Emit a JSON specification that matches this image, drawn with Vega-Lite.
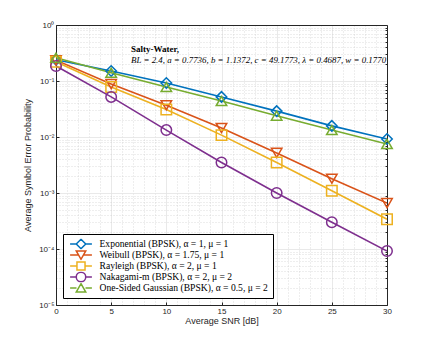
{
  "$schema": "https://vega.github.io/schema/vega-lite/v6.json",
  "width": 331,
  "height": 280,
  "autosize": "none",
  "padding": {"left": 56, "top": 25, "right": 41, "bottom": 38},
  "background": "white",
  "config": {
    "view": {"stroke": "#262626", "strokeWidth": 1},
    "axis": {"labelFont": "Liberation Sans", "titleFont": "Liberation Sans", "labelColor": "#262626", "titleColor": "#262626", "titleFontWeight": "normal", "domainColor": "#262626", "tickColor": "#262626"},
    "range": {"category": ["#0072BD", "#D95319", "#EDB120", "#7E2F8E", "#77AC30"]}
  },
  "datasets": {
    "ser": [
      {"snr": 0, "ser": 0.24, "model": "Exponential (BPSK), α = 1, μ = 1"},
      {"snr": 5, "ser": 0.151, "model": "Exponential (BPSK), α = 1, μ = 1"},
      {"snr": 10, "ser": 0.092, "model": "Exponential (BPSK), α = 1, μ = 1"},
      {"snr": 15, "ser": 0.052, "model": "Exponential (BPSK), α = 1, μ = 1"},
      {"snr": 20, "ser": 0.029, "model": "Exponential (BPSK), α = 1, μ = 1"},
      {"snr": 25, "ser": 0.0158, "model": "Exponential (BPSK), α = 1, μ = 1"},
      {"snr": 30, "ser": 0.0092, "model": "Exponential (BPSK), α = 1, μ = 1"},
      {"snr": 0, "ser": 0.235, "model": "Weibull (BPSK), α = 1.75, μ = 1"},
      {"snr": 5, "ser": 0.088, "model": "Weibull (BPSK), α = 1.75, μ = 1"},
      {"snr": 10, "ser": 0.037, "model": "Weibull (BPSK), α = 1.75, μ = 1"},
      {"snr": 15, "ser": 0.0145, "model": "Weibull (BPSK), α = 1.75, μ = 1"},
      {"snr": 20, "ser": 0.0052, "model": "Weibull (BPSK), α = 1.75, μ = 1"},
      {"snr": 25, "ser": 0.0018, "model": "Weibull (BPSK), α = 1.75, μ = 1"},
      {"snr": 30, "ser": 0.00066, "model": "Weibull (BPSK), α = 1.75, μ = 1"},
      {"snr": 0, "ser": 0.22, "model": "Rayleigh (BPSK), α = 2, μ = 1"},
      {"snr": 5, "ser": 0.078, "model": "Rayleigh (BPSK), α = 2, μ = 1"},
      {"snr": 10, "ser": 0.031, "model": "Rayleigh (BPSK), α = 2, μ = 1"},
      {"snr": 15, "ser": 0.0108, "model": "Rayleigh (BPSK), α = 2, μ = 1"},
      {"snr": 20, "ser": 0.0035, "model": "Rayleigh (BPSK), α = 2, μ = 1"},
      {"snr": 25, "ser": 0.0011, "model": "Rayleigh (BPSK), α = 2, μ = 1"},
      {"snr": 30, "ser": 0.00034, "model": "Rayleigh (BPSK), α = 2, μ = 1"},
      {"snr": 0, "ser": 0.185, "model": "Nakagami-m (BPSK), α = 2, μ = 2"},
      {"snr": 5, "ser": 0.052, "model": "Nakagami-m (BPSK), α = 2, μ = 2"},
      {"snr": 10, "ser": 0.0133, "model": "Nakagami-m (BPSK), α = 2, μ = 2"},
      {"snr": 15, "ser": 0.0035, "model": "Nakagami-m (BPSK), α = 2, μ = 2"},
      {"snr": 20, "ser": 0.001, "model": "Nakagami-m (BPSK), α = 2, μ = 2"},
      {"snr": 25, "ser": 0.0003, "model": "Nakagami-m (BPSK), α = 2, μ = 2"},
      {"snr": 30, "ser": 0.000092, "model": "Nakagami-m (BPSK), α = 2, μ = 2"},
      {"snr": 0, "ser": 0.26, "model": "One-Sided Gaussian (BPSK), α = 0.5, μ = 2"},
      {"snr": 5, "ser": 0.14, "model": "One-Sided Gaussian (BPSK), α = 0.5, μ = 2"},
      {"snr": 10, "ser": 0.078, "model": "One-Sided Gaussian (BPSK), α = 0.5, μ = 2"},
      {"snr": 15, "ser": 0.044, "model": "One-Sided Gaussian (BPSK), α = 0.5, μ = 2"},
      {"snr": 20, "ser": 0.024, "model": "One-Sided Gaussian (BPSK), α = 0.5, μ = 2"},
      {"snr": 25, "ser": 0.0133, "model": "One-Sided Gaussian (BPSK), α = 0.5, μ = 2"},
      {"snr": 30, "ser": 0.0075, "model": "One-Sided Gaussian (BPSK), α = 0.5, μ = 2"}
    ]
  },
  "data": {"name": "ser"},
  "resolve": {"axis": {"x": "independent", "y": "independent"}},
  "layer": [
    {
      "mark": {"type": "point", "opacity": 0},
      "encoding": {
        "x": {"field": "snr", "type": "quantitative", "scale": {"domain": [0, 30], "nice": false},
          "axis": {"orient": "top", "values": [1,2,3,4,6,7,8,9,11,12,13,14,16,17,18,19,21,22,23,24,26,27,28,29], "labels": false, "ticks": false, "domain": true, "title": null, "grid": true, "gridDash": [1, 2], "gridColor": "#c8c8c8", "gridWidth": 0.6}},
        "y": {"field": "ser", "type": "quantitative", "scale": {"type": "log", "domain": [0.00001, 1], "nice": false},
          "axis": {"orient": "right", "values": [0.00002,0.00003,0.00004,0.00005,0.00006,0.00007,0.00008,0.00009,0.0002,0.0003,0.0004,0.0005,0.0006,0.0007,0.0008,0.0009,0.002,0.003,0.004,0.005,0.006,0.007,0.008,0.009,0.02,0.03,0.04,0.05,0.06,0.07,0.08,0.09,0.2,0.3,0.4,0.5,0.6,0.7,0.8,0.9], "labels": false, "ticks": true, "tickSize": -2, "domain": true, "title": null, "grid": true, "gridDash": [1, 2], "gridColor": "#c8c8c8", "gridWidth": 0.6}},
        "color": {"field": "model", "type": "nominal",
          "scale": {"domain": ["Exponential (BPSK), α = 1, μ = 1", "Weibull (BPSK), α = 1.75, μ = 1", "Rayleigh (BPSK), α = 2, μ = 1", "Nakagami-m (BPSK), α = 2, μ = 2", "One-Sided Gaussian (BPSK), α = 0.5, μ = 2"]},
          "legend": {"title": null, "orient": "bottom-left", "offset": 7, "labelFont": "Liberation Serif", "labelFontSize": 9.6, "labelColor": "black", "symbolStrokeWidth": 1.5, "symbolSize": 90, "symbolFillColor": "transparent", "symbolOpacity": 1, "strokeColor": "#000000", "fillColor": "white", "padding": 4.5, "rowPadding": 0, "clipHeight": 11, "symbolOffset": 8, "labelOffset": 13, "labelLimit": 300,
            "encode": {"legend": {"update": {"strokeWidth": {"value": 1.6}}}}}},
        "shape": {"field": "model", "type": "nominal",
          "scale": {"domain": ["Exponential (BPSK), α = 1, μ = 1", "Weibull (BPSK), α = 1.75, μ = 1", "Rayleigh (BPSK), α = 2, μ = 1", "Nakagami-m (BPSK), α = 2, μ = 2", "One-Sided Gaussian (BPSK), α = 0.5, μ = 2"],
            "range": ["M-2.3,0H-1M1,0H2.3M0,-1L1,0L0,1L-1,0Z", "M-2.3,0H-0.45M0.45,0H2.3M-1,-0.85L1,-0.85L0,0.9Z", "M-2.3,0H-0.85M0.85,0H2.3M-0.85,-0.85H0.85V0.85H-0.85Z", "M-2.3,0H-1M1,0H2.3M1,0A1,1 0 1,1 -1,0A1,1 0 1,1 1,0Z", "M-2.3,0H-0.95M0.95,0H2.3M0,-0.9L1,0.85L-1,0.85Z"]}}
      }
    },
    {
      "mark": {"type": "line", "strokeWidth": 1.6, "clip": true},
      "encoding": {
        "x": {"field": "snr", "type": "quantitative",
          "axis": {"orient": "bottom", "values": [0, 5, 10, 15, 20, 25, 30], "title": "Average SNR [dB]", "titleFontSize": 9, "labelFontSize": 8, "tickSize": -3, "labelPadding": 5, "titlePadding": 1, "grid": true, "gridColor": "#e3e3e3", "gridWidth": 0.8, "labelFlush": false}},
        "y": {"field": "ser", "type": "quantitative",
          "axis": {"orient": "left", "values": [0.00001, 0.0001, 0.001, 0.01, 0.1, 1], "labelExpr": "datum.value >= 1 ? '10⁰' : datum.value >= 0.1 ? '10⁻¹' : datum.value >= 0.01 ? '10⁻²' : datum.value >= 0.001 ? '10⁻³' : datum.value >= 0.0001 ? '10⁻⁴' : '10⁻⁵'", "title": "Average Symbol Error Probability", "titleFontSize": 9, "labelFontSize": 8, "tickSize": -3, "labelPadding": 5, "titlePadding": 6, "grid": true, "gridColor": "#e3e3e3", "gridWidth": 0.8}},
        "color": {"field": "model", "type": "nominal"}
      }
    },
    {
      "transform": [{"filter": "indexof(datum.model, 'Exponential') == 0"}],
      "mark": {"type": "point", "filled": false, "strokeWidth": 1.5, "size": 110, "opacity": 1, "shape": "diamond"},
      "encoding": {"x": {"field": "snr", "type": "quantitative", "axis": null}, "y": {"field": "ser", "type": "quantitative", "axis": null}, "color": {"field": "model", "type": "nominal"}}
    },
    {
      "transform": [{"filter": "indexof(datum.model, 'Weibull') == 0"}],
      "mark": {"type": "point", "filled": false, "strokeWidth": 1.5, "size": 110, "opacity": 1, "shape": "triangle-down"},
      "encoding": {"x": {"field": "snr", "type": "quantitative", "axis": null}, "y": {"field": "ser", "type": "quantitative", "axis": null}, "color": {"field": "model", "type": "nominal"}}
    },
    {
      "transform": [{"filter": "indexof(datum.model, 'Rayleigh') == 0"}],
      "mark": {"type": "point", "filled": false, "strokeWidth": 1.5, "size": 110, "opacity": 1, "shape": "square"},
      "encoding": {"x": {"field": "snr", "type": "quantitative", "axis": null}, "y": {"field": "ser", "type": "quantitative", "axis": null}, "color": {"field": "model", "type": "nominal"}}
    },
    {
      "transform": [{"filter": "indexof(datum.model, 'Nakagami') == 0"}],
      "mark": {"type": "point", "filled": false, "strokeWidth": 1.5, "size": 110, "opacity": 1, "shape": "circle"},
      "encoding": {"x": {"field": "snr", "type": "quantitative", "axis": null}, "y": {"field": "ser", "type": "quantitative", "axis": null}, "color": {"field": "model", "type": "nominal"}}
    },
    {
      "transform": [{"filter": "indexof(datum.model, 'One-Sided') == 0"}],
      "mark": {"type": "point", "filled": false, "strokeWidth": 1.5, "size": 110, "opacity": 1, "shape": "triangle-up"},
      "encoding": {"x": {"field": "snr", "type": "quantitative", "axis": null}, "y": {"field": "ser", "type": "quantitative", "axis": null}, "color": {"field": "model", "type": "nominal"}}
    },
    {
      "data": {"values": [{}]},
      "mark": {"type": "text", "font": "Liberation Serif", "fontWeight": "bold", "fontSize": 9, "align": "left", "baseline": "middle", "color": "black"},
      "encoding": {
        "x": {"datum": 6.8, "type": "quantitative", "axis": null},
        "y": {"datum": 0.37, "type": "quantitative", "axis": null},
        "text": {"value": "Salty-Water,"}
      }
    },
    {
      "data": {"values": [{}]},
      "mark": {"type": "text", "font": "Liberation Serif", "fontStyle": "italic", "fontSize": 8.9, "align": "left", "baseline": "middle", "color": "black"},
      "encoding": {
        "x": {"datum": 6.8, "type": "quantitative", "axis": null},
        "y": {"datum": 0.24, "type": "quantitative", "axis": null},
        "text": {"value": "BL = 2.4, a = 0.7736, b = 1.1372, c = 49.1773, λ = 0.4687, w = 0.1770"}
      }
    }
  ]
}
